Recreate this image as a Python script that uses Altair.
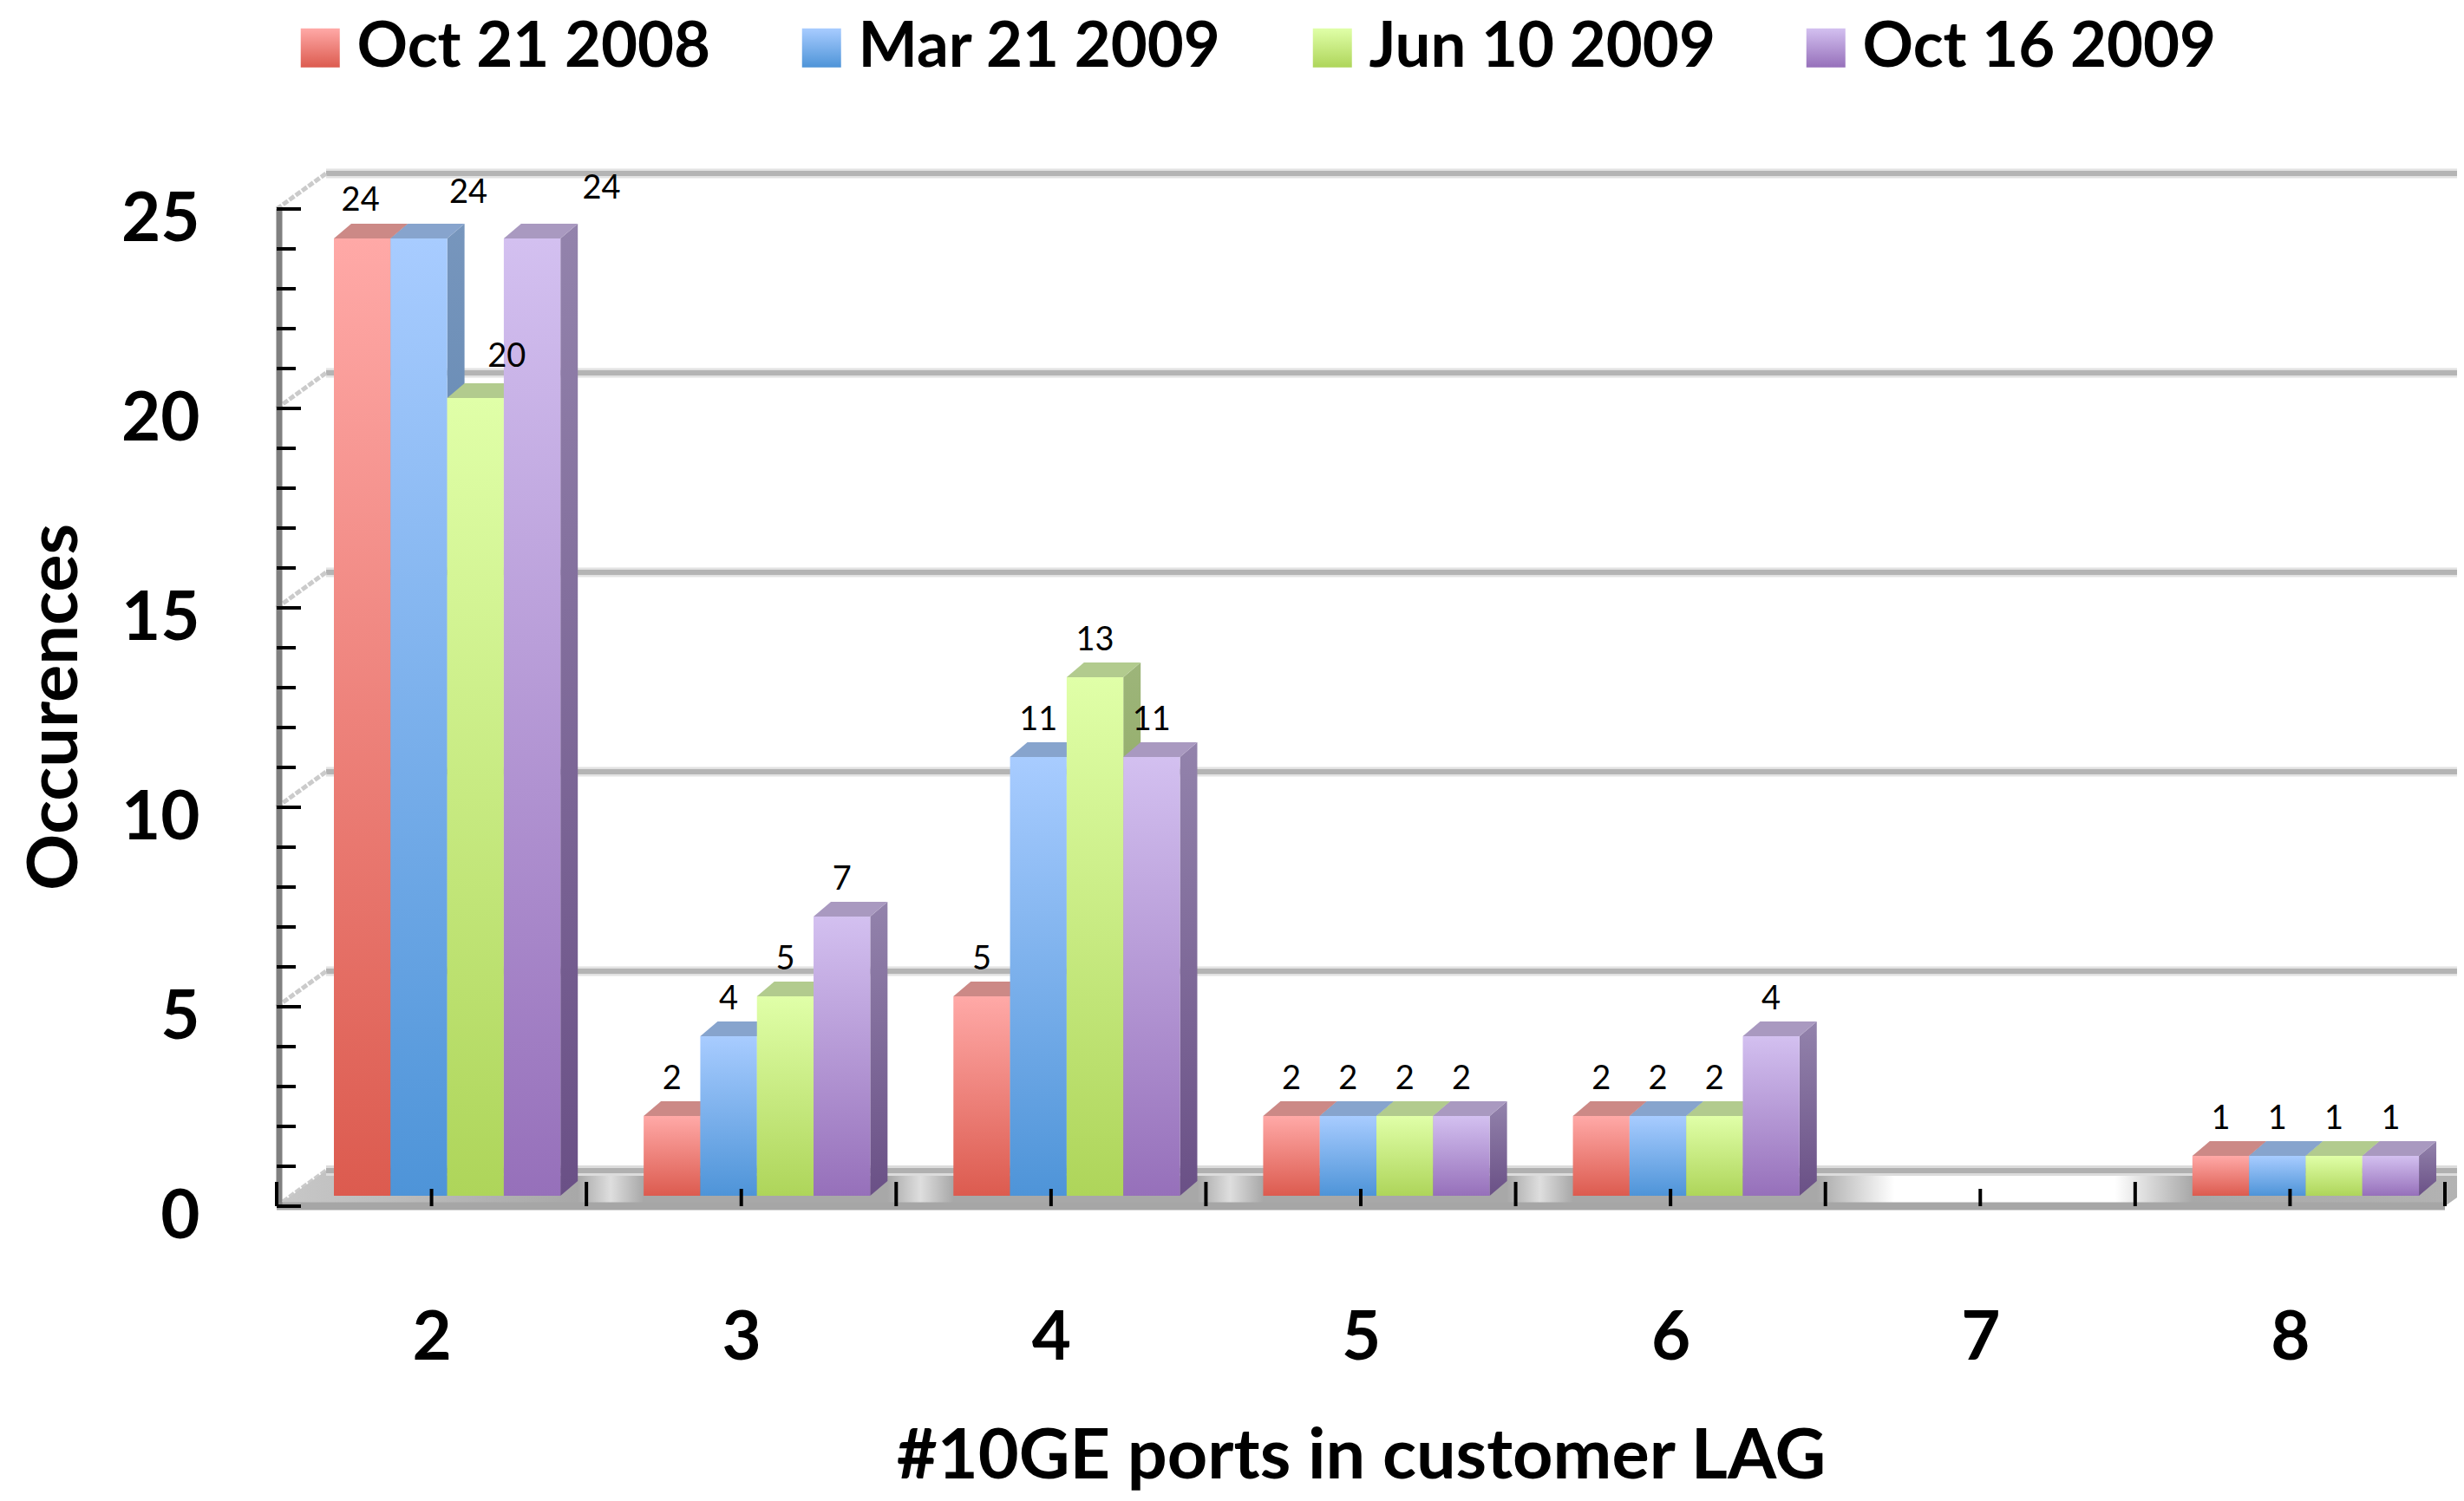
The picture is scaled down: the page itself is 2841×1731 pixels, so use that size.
import altair as alt
import pandas as pd

categories = [2, 3, 4, 5, 6, 7, 8]
series = ["Oct 21 2008", "Mar 21 2009", "Jun 10 2009", "Oct 16 2009"]
oct_2008 = [24, 2, 5, 2, 2, None, 1]
mar_2009 = [24, 4, 11, 2, 2, None, 1]
jun_2009 = [20, 5, 13, 2, 2, None, 1]
oct_2009 = [24, 7, 11, 2, 4, None, 1]
values = [oct_2008, mar_2009, jun_2009, oct_2009]
y_major = [0, 5, 10, 15, 20, 25]
y_minor = [v for v in range(0, 26) if v % 5]

FONT = "Lato"
W, H = 2500, 1150
U = W / 7          # px per category
V = H / 25         # px per occurrence
X0 = 1.5
def dx(px): return px / U
def dy(px): return px / V

bar_w = dx(65.3)
lead = dx(66)
base = dy(12)
depth_x, depth_y = dx(20), dy(17)
wall_x, wall_y = dx(57), dy(41)
x_end = X0 + dx(2833 - 319)

fronts = ["#FFA9A7", "#A8CCFF", "#E0FFA8", "#D3C0F0"]
bottoms = ["#DC5B4F", "#4E94D8", "#AED55A", "#9670BA"]
tops = ["#CC8986", "#87A4CD", "#B2CB8E", "#A999C0"]
side_hi = ["#B07573", "#7796BD", "#9DB57A", "#9383AC"]
side_lo = ["#8F4038", "#3F6F9F", "#7D9A40", "#6A5086"]

def grad_expr(a, b):
    return {"expr": "{gradient:'linear',x1:0,y1:0,x2:0,y2:1,stops:[{offset:0,color:'%s'},{offset:1,color:'%s'}]}" % (a, b)}

# label nudges of the first group, in px
nudge = {(2, 0): (-2, -1), (2, 1): (57, -10), (2, 2): (36, -5), (2, 3): (80, -15)}

front_rows, side_rows, top_rows, label_rows = [], [], [], []
for s, name in enumerate(series):
    for c, cat in enumerate(categories):
        v = values[s][c]
        if v is None:
            continue
        l = cat - 0.5 + lead + s * bar_w
        r = l + bar_w
        t = base + v
        k = f"{cat}-{s}"
        front_rows.append(dict(series=name, l=l, r=r, b=base, t=t, s=s))
        side_rows += [
            dict(k=k, s=s, x=r, y=t, y2=base),
            dict(k=k, s=s, x=r + depth_x, y=t + depth_y, y2=base + depth_y),
        ]
        top_rows += [
            dict(k=k, s=s, x=l, y=t, y2=t),
            dict(k=k, s=s, x=l + depth_x, y=t + depth_y, y2=t),
            dict(k=k, s=s, x=r, y=t + depth_y, y2=t),
            dict(k=k, s=s, x=r + depth_x, y=t + depth_y, y2=t + depth_y),
        ]
        n = nudge.get((cat, s), (0, 0))
        label_rows.append(dict(x=(l + r) / 2 + dx(n[0]), y=t + dy(42 - n[1]), v=v))

front_df = pd.DataFrame(front_rows)
side_df = pd.DataFrame(side_rows)
top_df = pd.DataFrame(top_rows)
label_df = pd.DataFrame(label_rows)

xs = alt.Scale(domain=[X0, X0 + 7], nice=False, zero=False)
ys = alt.Scale(domain=[0, 25], nice=False, zero=False)
x_axis = alt.Axis(
    values=categories, format="d", title="#10GE ports in customer LAG",
    domain=False, ticks=False, grid=False, labelPadding=114,
    labelFont=FONT, labelFontWeight="bold", labelFontSize=78, labelColor="#000000",
    titleFont=FONT, titleFontWeight="bold", titleFontSize=81, titleColor="#000000",
    titleX=1250, titleY=289, titleBaseline="middle", titleAnchor="middle")
y_axis = alt.Axis(
    values=y_major, format="d", title="Occurences",
    domain=False, ticks=False, grid=False, labelPadding=89, labelOffset=13,
    labelFont=FONT, labelFontWeight="bold", labelFontSize=78, labelColor="#000000",
    titleFont=FONT, titleFontWeight="bold", titleFontSize=81, titleColor="#000000",
    titleX=-255, titleY=574, titleBaseline="middle", titleAnchor="middle")
X = lambda f: alt.X(f, type="quantitative", scale=xs, axis=x_axis)
Y = lambda f: alt.Y(f, type="quantitative", scale=ys, axis=y_axis)

# --- wall grid lines, side diagonals
wall_df = pd.DataFrame({"v": y_major[1:]})
wall_df["a"] = X0 + wall_x
wall_df["b"] = x_end
wall_df["y"] = wall_df["v"] + wall_y
wall_soft = alt.Chart(wall_df).mark_rule(color="#e2e2e2", strokeWidth=11).encode(
    x=X("a"), x2="b", y=Y("y"))
wall_line = alt.Chart(wall_df).mark_rule(color="#b4b4b4", strokeWidth=6).encode(
    x=X("a"), x2="b", y=Y("y"))

diag_df = pd.DataFrame(
    [dict(k=v, x=X0, y=v) for v in y_major] +
    [dict(k=v, x=X0 + wall_x, y=v + wall_y) for v in y_major])
diag = alt.Chart(diag_df).mark_line(color="#cbcbcb", strokeWidth=5, strokeDash=[7, 2]).encode(
    x=X("x"), y=Y("y"), detail="k:N")

# --- floor
floor_df = pd.DataFrame([
    dict(x=X0, y=0, y2=0),
    dict(x=X0 + wall_x, y=wall_y, y2=0),
    dict(x=X0 + 7, y=wall_y, y2=0),
    dict(x=X0 + 7 + wall_x, y=wall_y, y2=wall_y),
])
span = 7 + wall_x
def off(cat_pos):
    return max(0.0, min(1.0, (cat_pos - X0) / span))
stops = [alt.GradientStop(offset=0, color="#c8c8c8")]
for cat in [2, 3, 4, 5]:
    g0 = cat - 0.5 + lead + 4 * bar_w + depth_x
    g1 = cat + 0.5 + lead
    stops += [alt.GradientStop(offset=off(g0), color="#a8a8a8"),
              alt.GradientStop(offset=off((g0 + g1) / 2), color="#dedede"),
              alt.GradientStop(offset=off(g1), color="#a8a8a8")]
end6 = 6 - 0.5 + lead + 4 * bar_w + depth_x
start8 = 8 - 0.5 + lead
stops += [alt.GradientStop(offset=off(end6), color="#a8a8a8"),
          alt.GradientStop(offset=off(end6 + 0.25), color="#ffffff"),
          alt.GradientStop(offset=off(start8 - 0.25), color="#ffffff"),
          alt.GradientStop(offset=off(start8), color="#a8a8a8"),
          alt.GradientStop(offset=1, color="#b4b4b4")]
floor = alt.Chart(floor_df).mark_area(
    fill=alt.Gradient(gradient="linear", x1=0, x2=1, y1=0, y2=0, stops=stops)
).encode(x=X("x"), y=Y("y"), y2="y2")

edge_df = pd.DataFrame({"a": [X0 + wall_x], "b": [x_end], "y": [wall_y]})
floor_back_soft = alt.Chart(edge_df).mark_rule(color="#dcdcdc", strokeWidth=12).encode(
    x=X("a"), x2="b", y=Y("y"))
floor_back = alt.Chart(edge_df).mark_rule(color="#b0b0b0", strokeWidth=6).encode(
    x=X("a"), x2="b", y=Y("y"))
front_edge_df = pd.DataFrame({"a": [X0], "b": [X0 + 7], "y": [0]})
floor_front = alt.Chart(front_edge_df).mark_rule(color="#a6a6a6", strokeWidth=9).encode(
    x=X("a"), x2="b", y=Y("y"))

# --- the bars, series by series: side, top, front
color_scale = alt.Scale(domain=series, range=[grad_expr(a, b) for a, b in zip(fronts, bottoms)])
bars = []
for s, name in enumerate(series):
    side = alt.Chart(side_df[side_df.s == s]).mark_area(
        fill=alt.Gradient(gradient="linear", x1=0, x2=0, y1=0, y2=1, stops=[
            alt.GradientStop(offset=0, color=side_hi[s]),
            alt.GradientStop(offset=1, color=side_lo[s])])
    ).encode(x=X("x"), y=Y("y"), y2="y2", detail="k:N")
    top = alt.Chart(top_df[top_df.s == s]).mark_area(fill=tops[s]).encode(
        x=X("x"), y=Y("y"), y2="y2", detail="k:N")
    legend = None
    if s == 0:
        legend = alt.Legend(
            title=None, orient="none", legendX=14, legendY=-222, direction="horizontal",
            columns=4, gridAlign="none", columnPadding=91, labelOffset=6,
            labelFont=FONT, labelFontWeight="bold", labelFontSize=72.5, labelColor="#000000",
            symbolType="square", symbolSize=2025, symbolStrokeWidth=0, symbolOpacity=1,
            labelLimit=1000, rowPadding=0, padding=0)
    front = alt.Chart(front_df[front_df.s == s]).mark_rect().encode(
        x=X("l"), x2="r", y=Y("b"), y2="t",
        color=alt.Color("series:N", scale=color_scale, legend=legend))
    bars += [side, top, front]

# --- axis furniture
axis_bar_df = pd.DataFrame({"x": [X0 + dx(3)], "a": [0], "b": [25]})
axis_bar = alt.Chart(axis_bar_df).mark_rule(color="#808080", strokeWidth=7).encode(
    x=X("x"), y=Y("a"), y2="b")

ymaj_df = pd.DataFrame({"y": y_major, "a": X0, "b": X0 + dx(28)})
ymin_df = pd.DataFrame({"y": y_minor, "a": X0, "b": X0 + dx(22)})
ymaj = alt.Chart(ymaj_df).mark_rule(color="#000000", strokeWidth=4).encode(
    x=X("a"), x2="b", y=Y("y"))
ymin = alt.Chart(ymin_df).mark_rule(color="#000000", strokeWidth=4).encode(
    x=X("a"), x2="b", y=Y("y"))

xt_tall = pd.DataFrame({"x": [X0 + i for i in range(8)], "a": 0.0, "b": dy(28)})
xt_short = pd.DataFrame({"x": categories, "a": 0.0, "b": dy(20)})
xtall = alt.Chart(xt_tall).mark_rule(color="#000000", strokeWidth=4).encode(
    x=X("x"), y=Y("a"), y2="b")
xshort = alt.Chart(xt_short).mark_rule(color="#000000", strokeWidth=4).encode(
    x=X("x"), y=Y("a"), y2="b")

labels = alt.Chart(label_df).mark_text(
    font=FONT, fontSize=38, color="#000000", align="center", baseline="middle"
).encode(x=X("x"), y=Y("y"), text=alt.Text("v:Q", format="d"))

chart = alt.layer(
    wall_soft, wall_line, diag, floor, floor_back_soft, floor_back, floor_front,
    axis_bar, *bars, ymaj, ymin, xtall, xshort, labels
).properties(
    width=W, height=H,
    padding={"left": 311, "top": 233, "right": 14, "bottom": 332},
    autosize=alt.AutoSizeParams(type="none"),
    background="#ffffff",
).configure_view(stroke=None)

chart.save("out.html", embed_options={"renderer": "svg", "actions": False})
